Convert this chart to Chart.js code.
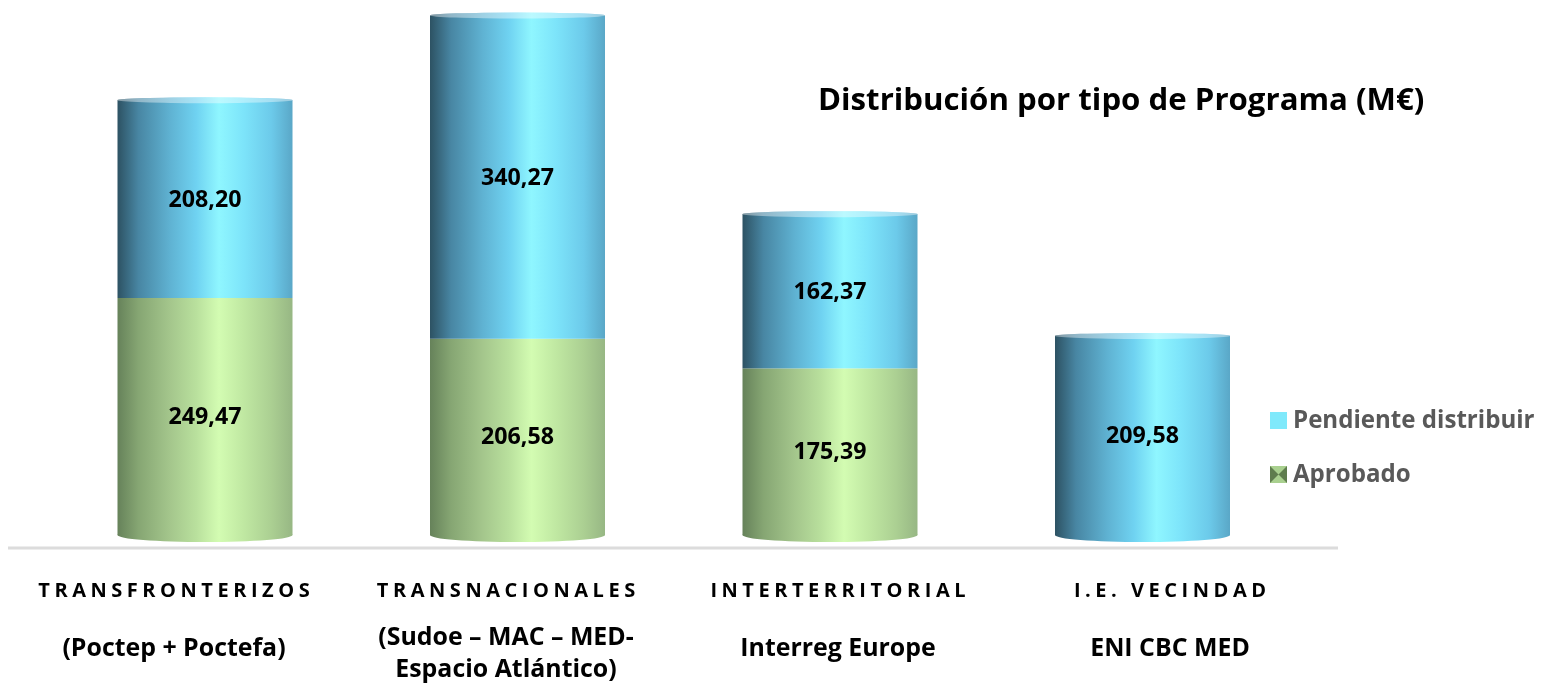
<!DOCTYPE html>
<html lang="es">
<head>
<meta charset="utf-8">
<title>Distribución por tipo de Programa (M€)</title>
<script src="https://cdn.jsdelivr.net/npm/chart.js@4.4.1/dist/chart.umd.min.js"></script>
<style>
  html, body { margin: 0; padding: 0; background: #ffffff; }
  #wrap { width: 1541px; height: 685px; }
</style>
</head>
<body>
<div id="wrap"><canvas id="chart" width="1541" height="685"></canvas></div>
<script>
// ---- data ----
const programTypes = ['TRANSFRONTERIZOS', 'TRANSNACIONALES', 'INTERTERRITORIAL', 'I.E. VECINDAD'];
const programNames = [
    ['(Poctep + Poctefa)'],
    ['(Sudoe \u2013 MAC \u2013 MED-', 'Espacio Atl\u00e1ntico)'],
    ['Interreg Europe'],
    ['ENI CBC MED']
];
const aprobado = [249.47, 206.58, 175.39, 0];
const pendiente = [208.20, 340.27, 162.37, 209.58];
const chartTitle = 'Distribuci\u00f3n por tipo de Programa (M\u20ac)';

const FONT = "'Open Sans', 'Noto Sans', sans-serif";

// cylinder shading (left -> right)
const shades = {
    blue: [[0, '#2d5263'], [0.12, '#4886a3'], [0.3, '#5fb2d2'], [0.45, '#6fd2f1'],
           [0.58, '#8ff6ff'], [0.72, '#7de4fa'], [0.88, '#6ccaea'], [1, '#5aa7c7']],
    green: [[0, '#66825a'], [0.12, '#86a673'], [0.3, '#a4c68c'], [0.45, '#b9e09d'],
            [0.58, '#d3fcb2'], [0.72, '#c0e8a2'], [0.88, '#abcf92'], [1, '#97b784']]
};

function cylGradient(ctx, x0, w, stops) {
    const g = ctx.createLinearGradient(x0, 0, x0 + w, 0);
    stops.forEach(s => g.addColorStop(s[0], s[1]));
    return g;
}

function fmt(v) {
    return v.toFixed(2).replace('.', ',');
}

// font size that makes `text` about `width` px wide (Calibri look-alike sizing)
function fitSize(ctx, text, width) {
    ctx.font = 'bold 100px ' + FONT;
    return 100 * width / ctx.measureText(text).width;
}

// ═══════════════════════════════
// cylinders + value labels
// ═══════════════════════════════
const cylinderPlugin = {
    id: 'cylinders',
    afterDatasetsDraw(chart) {
        const ctx = chart.ctx;
        const metas = chart.data.datasets.map((d, i) => chart.getDatasetMeta(i));
        const n = chart.data.labels.length;
        const valSize = fitSize(ctx, '208,20', 73);

        for (let i = 0; i < n; i++) {
            const segs = [];
            metas.forEach((m, di) => {
                const v = chart.data.datasets[di].data[i];
                if (v > 0) segs.push({ el: m.data[i], shade: chart.data.datasets[di].shade, v });
            });
            if (!segs.length) continue;

            segs.forEach((s, k) => {
                const el = s.el;
                const x0 = el.x - el.width / 2;
                const w = el.width;
                const grad = cylGradient(ctx, x0, w, shades[s.shade]);
                ctx.save();
                ctx.fillStyle = grad;
                if (k === 0) {
                    // rounded bottom
                    ctx.beginPath();
                    ctx.ellipse(el.x, el.base, w / 2, 7, 0, 0, Math.PI * 2);
                    ctx.fill();
                }
                ctx.fillRect(x0, el.y, w, el.base - el.y);
                if (k === segs.length - 1) {
                    // top face
                    ctx.beginPath();
                    ctx.ellipse(el.x, el.y, w / 2, 3, 0, 0, Math.PI * 2);
                    ctx.fill();
                    ctx.fillStyle = 'rgba(255,255,255,0.4)';
                    ctx.fill();
                }
                ctx.restore();
            });

            segs.forEach(s => {
                const el = s.el;
                ctx.save();
                ctx.font = 'bold ' + valSize.toFixed(1) + 'px ' + FONT;
                ctx.fillStyle = '#000000';
                ctx.textAlign = 'center';
                ctx.textBaseline = 'middle';
                ctx.fillText(fmt(s.v), el.x, (el.y + el.base) / 2 + 1);
                ctx.restore();
            });
        }
    }
};

// ═══════════════════════════════
// base line, category labels, title, legend
// ═══════════════════════════════
const decorPlugin = {
    id: 'decor',
    beforeDatasetsDraw(chart) {
        const ctx = chart.ctx;
        ctx.save();
        ctx.strokeStyle = '#dcdcdc';
        ctx.lineWidth = 3;
        ctx.beginPath();
        ctx.moveTo(8, 548);
        ctx.lineTo(1338, 548);
        ctx.stroke();
        ctx.restore();
    },
    afterDraw(chart) {
        const ctx = chart.ctx;
        ctx.save();
        ctx.fillStyle = '#000000';
        ctx.textBaseline = 'alphabetic';

        // sizes
        const typeSize = 20;
        ctx.font = 'bold ' + typeSize + 'px ' + FONT;
        const plainW = ctx.measureText(programTypes[0]).width;
        const spacing = Math.max(0, (276 - plainW) / programTypes[0].length);
        const nameSize = fitSize(ctx, programNames[0][0], 223);

        // category labels (text boxes sit on their own grid)
        ctx.textAlign = 'center';
        const labelX0 = 174, labelStep = 332;
        programTypes.forEach((t, i) => {
            const cx = labelX0 + i * labelStep;
            ctx.font = 'bold ' + typeSize + 'px ' + FONT;
            ctx.letterSpacing = spacing.toFixed(2) + 'px';
            ctx.fillText(t, cx + spacing / 2, 597);
            ctx.letterSpacing = '0px';
            ctx.font = 'bold ' + nameSize.toFixed(1) + 'px ' + FONT;
            const lines = programNames[i];
            if (lines.length === 1) {
                ctx.fillText(lines[0], cx, 656);
            } else {
                ctx.fillText(lines[0], cx, 645);
                ctx.fillText(lines[1], cx, 677);
            }
        });

        // title
        const titleSize = fitSize(ctx, chartTitle, 607);
        ctx.font = 'bold ' + titleSize.toFixed(1) + 'px ' + FONT;
        ctx.textAlign = 'left';
        ctx.fillText(chartTitle, 818, 110);

        // legend (stack order: top series first)
        const legSize = fitSize(ctx, 'Pendiente distribuir', 242);
        const items = chart.data.datasets.slice().reverse();
        items.forEach((ds, k) => {
            const y = 412 + k * 54;
            if (ds.shade === 'blue') {
                ctx.fillStyle = '#7fe9fb';
                ctx.fillRect(1270, y, 17, 17);
            } else {
                ctx.fillStyle = '#5f7d4e';
                ctx.fillRect(1270, y, 17, 17);
                ctx.fillStyle = '#a9d08f';
                ctx.beginPath();
                ctx.moveTo(1270, y); ctx.lineTo(1287, y); ctx.lineTo(1278.5, y + 8.5);
                ctx.closePath(); ctx.fill();
                ctx.beginPath();
                ctx.moveTo(1270, y + 17); ctx.lineTo(1287, y + 17); ctx.lineTo(1278.5, y + 8.5);
                ctx.closePath(); ctx.fill();
            }
            ctx.fillStyle = '#595959';
            ctx.font = 'bold ' + legSize.toFixed(1) + 'px ' + FONT;
            ctx.fillText(ds.label, 1293, y + 16);
        });
        ctx.restore();
    }
};

const chart = new Chart(document.getElementById('chart').getContext('2d'), {
    type: 'bar',
    data: {
        labels: programTypes,
        datasets: [
            { label: 'Aprobado', data: aprobado, shade: 'green', backgroundColor: 'rgba(0,0,0,0)' },
            { label: 'Pendiente distribuir', data: pendiente, shade: 'blue', backgroundColor: 'rgba(0,0,0,0)' }
        ]
    },
    options: {
        responsive: false,
        animation: false,
        devicePixelRatio: 1,
        layout: { padding: { left: 48.75, right: 242.25, top: 3, bottom: 150 } },
        datasets: { bar: { categoryPercentage: 1, barPercentage: 0.56 } },
        plugins: { legend: { display: false }, tooltip: { enabled: false } },
        scales: {
            x: { display: false, stacked: true, offset: true },
            y: { display: false, stacked: true, min: 0, max: 560 }
        }
    },
    plugins: [decorPlugin, cylinderPlugin]
});
</script>
</body>
</html>
